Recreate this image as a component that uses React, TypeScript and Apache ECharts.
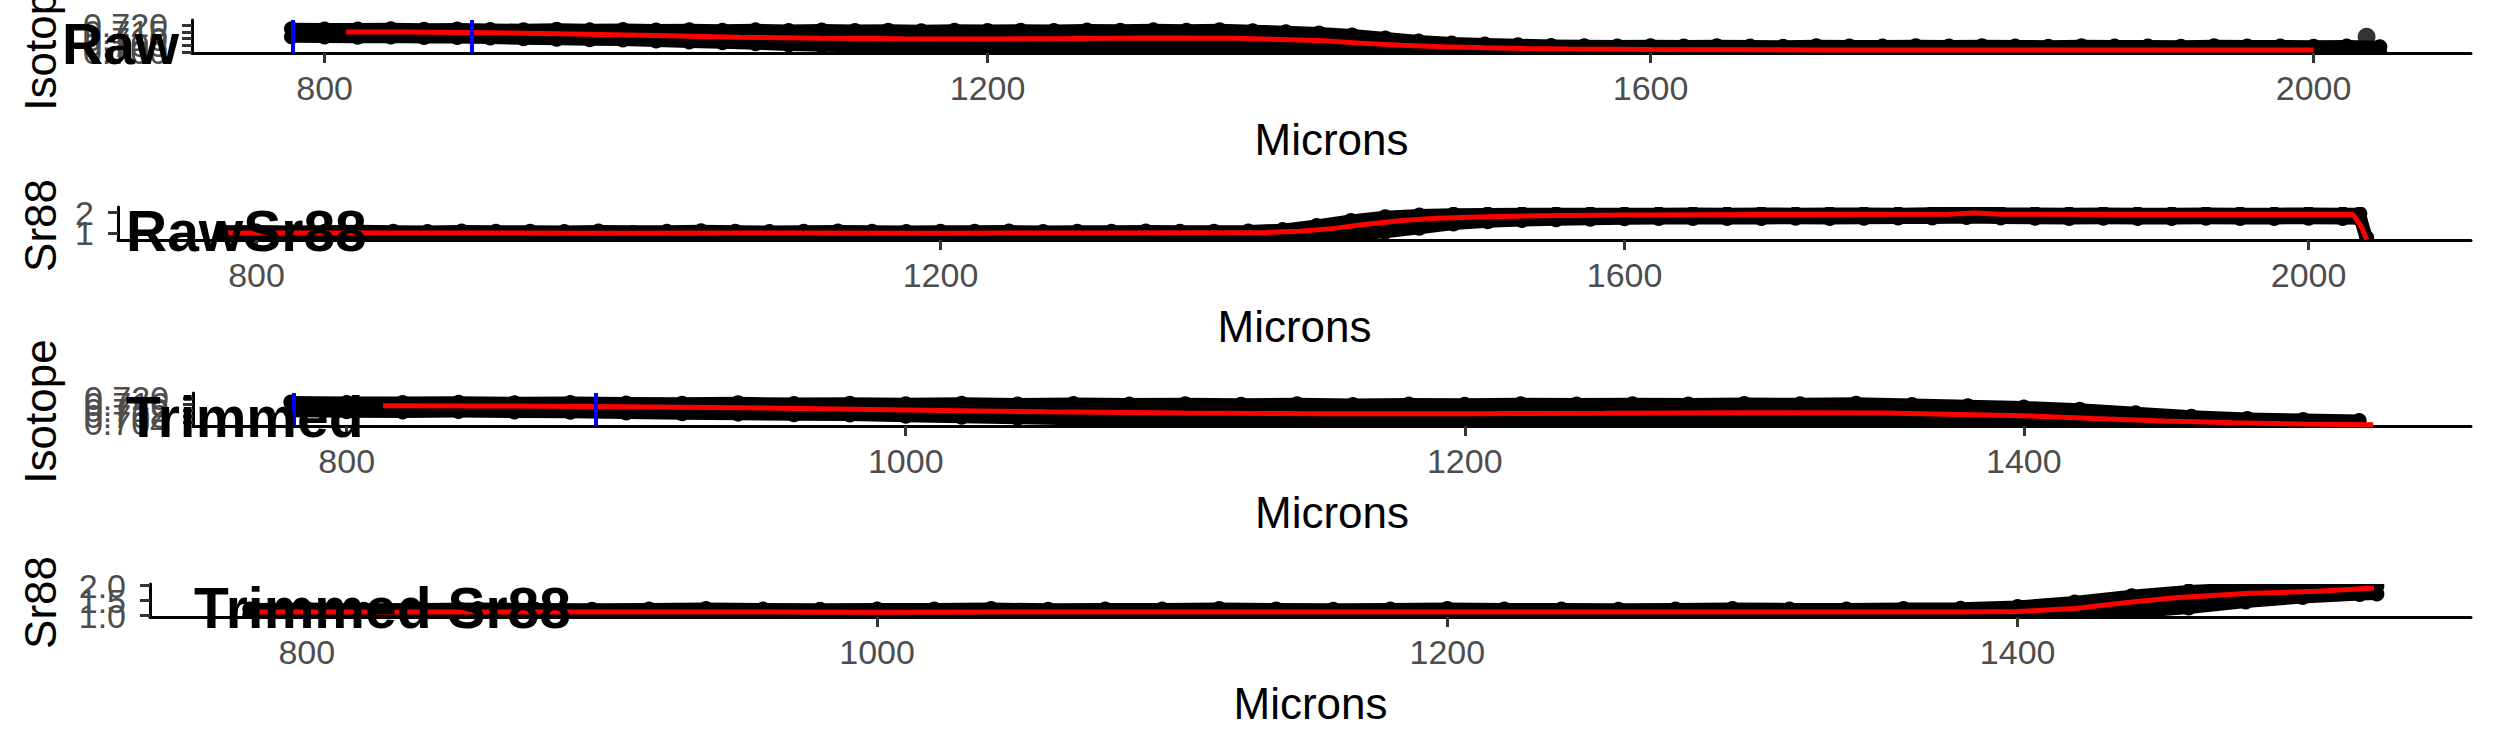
import React, { useEffect, useRef } from "react";
import * as echarts from "echarts";

const FONT = "Liberation Sans";

// ---------- Raw isotope (point-cloud envelope, smoothed line) ----------
const rawMicrons = [
  780, 800, 820, 840, 860, 880, 900, 920, 940, 960, 980, 1000, 1020, 1040, 1060, 1080,
  1100, 1120, 1140, 1160, 1180, 1200, 1220, 1240, 1260, 1280, 1300, 1320, 1340, 1360,
  1380, 1400, 1420, 1440, 1460, 1480, 1500, 1520, 1540, 1560, 1580, 1600, 1620, 1640,
  1660, 1680, 1700, 1720, 1740, 1760, 1780, 1800, 1820, 1840, 1860, 1880, 1900, 1920,
  1940, 1960, 1980, 2000, 2020, 2040,
];
const rawIsoUpper = [
  0.7173, 0.7171, 0.717, 0.7172, 0.7169, 0.7171, 0.7167, 0.7165, 0.7168, 0.7164, 0.7166,
  0.7163, 0.7165, 0.7161, 0.7164, 0.716, 0.7163, 0.7159, 0.7162, 0.7158, 0.7161, 0.7159,
  0.7162, 0.716, 0.7163, 0.7161, 0.7164, 0.7162, 0.7165, 0.7158, 0.715, 0.7141, 0.7127,
  0.7104, 0.7082, 0.7067, 0.706, 0.7054, 0.7049, 0.7046, 0.7045, 0.7047, 0.7044, 0.7046,
  0.7045, 0.7043, 0.7046, 0.7044, 0.7045, 0.7047, 0.7044, 0.7046, 0.7045, 0.7043, 0.7046,
  0.7044, 0.7045, 0.7043, 0.7046, 0.7044, 0.7045, 0.7043, 0.7045, 0.704,
];
const rawIsoLower = [
  0.7113, 0.7111, 0.7109, 0.7112, 0.7108, 0.7107, 0.7103, 0.7098, 0.7095, 0.7091, 0.7089,
  0.7082, 0.7075, 0.7069, 0.7061, 0.7053, 0.7047, 0.7043, 0.704, 0.7042, 0.7038, 0.704,
  0.7037, 0.7041, 0.7038, 0.704, 0.7037, 0.7039, 0.7036, 0.7035, 0.7032, 0.7029, 0.7023,
  0.7015, 0.7007, 0.7, 0.6995, 0.6992, 0.699, 0.6991, 0.6989, 0.699, 0.6991, 0.6989,
  0.699, 0.6991, 0.6989, 0.699, 0.6991, 0.6989, 0.699, 0.6991, 0.6989, 0.699, 0.6991,
  0.6989, 0.699, 0.6991, 0.6989, 0.699, 0.6991, 0.6989, 0.699, 0.6991,
];
const rawIsoSmoothMicrons = [
  813, 850, 900, 950, 1000, 1050, 1100, 1150, 1200, 1250, 1300, 1350, 1400, 1425, 1450,
  1475, 1500, 1525, 1550, 1600, 1700, 1800, 1900, 2000,
];
const rawIsoSmooth = [
  0.7149, 0.7148, 0.7143, 0.7134, 0.7122, 0.711, 0.7102, 0.7098, 0.7097, 0.71, 0.7104,
  0.7102, 0.7085, 0.7066, 0.705, 0.7039, 0.7031, 0.7026, 0.7022, 0.7018, 0.7016, 0.7015,
  0.7015, 0.7015,
];
const rawIsoOutlier = [[2032, 0.7113]];
const windowMarks = [781, 889];

// ---------- Raw Sr88 ----------
const rawSrMicrons = [
  780, 800, 820, 840, 860, 880, 900, 920, 940, 960, 980, 1000, 1020, 1040, 1060, 1080,
  1100, 1120, 1140, 1160, 1180, 1200, 1220, 1240, 1260, 1280, 1300, 1320, 1340, 1360,
  1380, 1400, 1420, 1440, 1460, 1480, 1500, 1520, 1540, 1560, 1580, 1600, 1620, 1640,
  1660, 1680, 1700, 1720, 1740, 1760, 1780, 1800, 1820, 1840, 1860, 1880, 1900, 1920,
  1940, 1960, 1980, 2000, 2020, 2030, 2034,
];
const rawSrUpper = [
  1.1, 1.11, 1.09, 1.1, 1.12, 1.1, 1.09, 1.11, 1.1, 1.1, 1.09, 1.11, 1.1, 1.1, 1.12, 1.1,
  1.09, 1.1, 1.11, 1.1, 1.09, 1.1, 1.1, 1.11, 1.09, 1.1, 1.1, 1.11, 1.1, 1.1,
  1.11, 1.18, 1.38, 1.62, 1.8, 1.89, 1.92, 1.93, 1.94, 1.94, 1.95, 1.94, 1.95, 1.96,
  1.95, 1.96, 1.95, 1.96, 1.96, 1.95, 1.97, 2.02, 1.97, 1.96, 1.95, 1.96, 1.95, 1.95,
  1.96, 1.95, 1.95, 1.96, 1.95, 1.94, 0.8,
];
const rawSrLower = [
  0.88, 0.87, 0.89, 0.88, 0.87, 0.88, 0.89, 0.88, 0.87, 0.88, 0.88, 0.89, 0.87, 0.88,
  0.88, 0.87, 0.89, 0.88, 0.88, 0.87, 0.88, 0.89, 0.88, 0.87, 0.88, 0.88, 0.89, 0.88,
  0.87, 0.88, 0.88, 0.88, 0.89, 0.93, 1.05, 1.25, 1.45, 1.56, 1.62, 1.66, 1.68, 1.7,
  1.71, 1.72, 1.71, 1.72, 1.73, 1.72, 1.73, 1.74, 1.74, 1.76, 1.74, 1.73, 1.72, 1.73,
  1.72, 1.72, 1.73, 1.72, 1.72, 1.73, 1.72, 1.7, 0.6,
];
const rawSrSmoothMicrons = [
  783, 900, 1000, 1100, 1200, 1300, 1390, 1410, 1430, 1450, 1470, 1490, 1520, 1550, 1600,
  1700, 1790, 1805, 1820, 1900, 2000, 2026, 2031, 2034,
];
const rawSrSmooth = [
  1.02, 1.02, 1.01, 1.02, 1.01, 1.02, 1.04, 1.1, 1.24, 1.45, 1.62, 1.73, 1.8, 1.85, 1.89,
  1.91, 1.92, 1.98, 1.92, 1.91, 1.91, 1.91, 1.3, 0.7,
];

// ---------- Trimmed Sr88 ----------
const trimSrMicrons = [
  780, 800, 820, 840, 860, 880, 900, 920, 940, 960, 980, 1000, 1020, 1040, 1060, 1080,
  1100, 1120, 1140, 1160, 1180, 1200, 1220, 1240, 1260, 1280, 1300, 1320, 1340, 1360,
  1380, 1400, 1420, 1440, 1460, 1480, 1500, 1520, 1526,
];
const trimSrUpper = [
  1.22, 1.23, 1.21, 1.22, 1.23, 1.22, 1.21, 1.22, 1.23, 1.22, 1.21, 1.22, 1.22, 1.23,
  1.21, 1.22, 1.22, 1.23, 1.22, 1.21, 1.22, 1.23, 1.22, 1.22, 1.21, 1.22, 1.23, 1.22,
  1.22, 1.23, 1.24, 1.3, 1.45, 1.66, 1.82, 1.9, 1.95, 1.98, 1.98,
];
const trimSrLower = [
  1.02, 1.01, 1.02, 1.03, 1.02, 1.01, 1.02, 1.02, 1.03, 1.02, 1.01, 1.02, 1.02, 1.01,
  1.02, 1.03, 1.02, 1.02, 1.01, 1.02, 1.02, 1.03, 1.02, 1.01, 1.02, 1.02, 1.03, 1.02,
  1.01, 1.02, 1.02, 1.02, 1.03, 1.1, 1.25, 1.45, 1.6, 1.7, 1.72,
];
const trimSrSmoothMicrons = [783, 900, 1000, 1100, 1200, 1300, 1380, 1400, 1420, 1440, 1455, 1480, 1505, 1525];
const trimSrSmooth = [1.12, 1.12, 1.11, 1.12, 1.12, 1.12, 1.12, 1.13, 1.23, 1.45, 1.59, 1.73, 1.81, 1.92];

const trimEnd = 1526;

// ---------- tick labels ----------
const rawMicronTicks = [800, 1200, 1600, 2000];
const trimMicronTicks = [800, 1000, 1200, 1400];
const rawIsoTicks = [0.7, 0.705, 0.71, 0.715, 0.72];
const rawSrTicks = [1, 2];
const trimIsoTicks = [0.704, 0.708, 0.712, 0.716, 0.72];
const trimSrTicks = [1.0, 1.5, 2.0];

const titles = ["Raw", "RawSr88", "Trimmed", "Trimmed Sr88"];
const yNames = ["Isotope", "Sr88", "Isotope", "Sr88"];

function pairs(xs: number[], ys: number[]) {
  return xs.map((x, i) => [x, ys[i]]);
}

export default function App() {
  const ref = useRef<HTMLDivElement>(null);

  useEffect(() => {
    if (!ref.current) return;
    const chart = echarts.init(ref.current, undefined, { renderer: "svg" });

    const keep = (xs: number[]) => xs.map((x, i) => i).filter((i) => xs[i] <= trimEnd);
    const tIdx = keep(rawMicrons);
    const trimIsoMicrons = tIdx.map((i) => rawMicrons[i]);
    const trimIsoUpper = tIdx.map((i) => rawIsoUpper[i]);
    const trimIsoLower = tIdx.map((i) => rawIsoLower[i]);
    const sIdx = keep(rawIsoSmoothMicrons);
    const trimIsoSmoothMicrons = sIdx.map((i) => rawIsoSmoothMicrons[i]);
    const trimIsoSmooth = sIdx.map((i) => rawIsoSmooth[i]);

    const panels = [
      {
        left: 192, top: 20, width: 2279, height: 33,
        xMin: 720, xMax: 2095, yMin: 0.6993, yMax: 0.7237,
        xTicks: rawMicronTicks, yTicks: rawIsoTicks, yFmt: (v: number) => v.toFixed(3),
        bx: rawMicrons, bu: rawIsoUpper, bl: rawIsoLower,
        sx: rawIsoSmoothMicrons, sy: rawIsoSmooth, marks: windowMarks, outlier: rawIsoOutlier,
        titleX: 62,
      },
      {
        left: 118, top: 207, width: 2353, height: 33,
        xMin: 719, xMax: 2095, yMin: 0.68, yMax: 2.27,
        xTicks: rawMicronTicks, yTicks: rawSrTicks, yFmt: (v: number) => String(Math.round(v)),
        bx: rawSrMicrons, bu: rawSrUpper, bl: rawSrLower,
        sx: rawSrSmoothMicrons, sy: rawSrSmooth, marks: [], outlier: [],
        titleX: 126,
      },
      {
        left: 193, top: 393, width: 2278, height: 33,
        xMin: 745, xMax: 1560, yMin: 0.7018, yMax: 0.7232,
        xTicks: trimMicronTicks, yTicks: trimIsoTicks, yFmt: (v: number) => v.toFixed(3),
        bx: trimIsoMicrons, bu: trimIsoUpper, bl: trimIsoLower,
        sx: trimIsoSmoothMicrons, sy: trimIsoSmooth, marks: windowMarks, outlier: [],
        titleX: 126,
      },
      {
        left: 150, top: 584, width: 2321, height: 33,
        xMin: 745, xMax: 1559, yMin: 0.95, yMax: 2.05,
        xTicks: trimMicronTicks, yTicks: trimSrTicks, yFmt: (v: number) => v.toFixed(1),
        bx: trimSrMicrons, bu: trimSrUpper, bl: trimSrLower,
        sx: trimSrSmoothMicrons, sy: trimSrSmooth, marks: [], outlier: [],
        titleX: 194,
      },
    ];

    const grid: any[] = [];
    const xAxis: any[] = [];
    const yAxis: any[] = [];
    const series: any[] = [];
    const graphic: any[] = [];

    panels.forEach((p, k) => {
      grid.push({ left: p.left, top: p.top, width: p.width, height: p.height, containLabel: false });
      xAxis.push({
        type: "value", gridIndex: k, min: p.xMin, max: p.xMax,
        name: "Microns", nameLocation: "middle", nameGap: 64,
        nameTextStyle: { fontSize: 44, color: "#000", fontFamily: FONT, lineHeight: 44 },
        axisLine: { show: true, onZero: false, lineStyle: { color: "#000", width: 3 } },
        axisTick: { show: true, length: 10, inside: false, customValues: p.xTicks, lineStyle: { color: "#333", width: 3 } },
        axisLabel: {
          customValues: p.xTicks, fontSize: 34, color: "#4D4D4D", fontFamily: FONT, margin: 18, lineHeight: 34,
          formatter: (v: number) => String(v), showMinLabel: true, showMaxLabel: true, hideOverlap: false,
        },
        splitLine: { show: false },
      });
      // main y axis: line + ticks, series are bound to it
      const mainY = yAxis.length;
      yAxis.push({
        type: "value", gridIndex: k, min: p.yMin, max: p.yMax, position: "left", offset: 0,
        axisLine: { show: true, onZero: false, lineStyle: { color: "#000", width: 3 } },
        axisTick: { show: true, length: 10, inside: false, customValues: p.yTicks, lineStyle: { color: "#333", width: 3 } },
        axisLabel: { show: false },
        splitLine: { show: false },
      });
      // one label axis per tick value so that overlapping labels (as in the reference) are all kept
      p.yTicks.forEach((t) => {
        yAxis.push({
          type: "value", gridIndex: k, min: p.yMin, max: p.yMax, position: "left", offset: 0,
          axisLine: { show: false, onZero: false },
          axisTick: { show: false },
          axisLabel: {
            customValues: [t], fontSize: 34, color: "#4D4D4D", fontFamily: FONT, margin: 24,
            formatter: p.yFmt, showMinLabel: true, showMaxLabel: true, hideOverlap: false,
          },
          splitLine: { show: false },
        });
      });

      const bx = p.bx, bu = p.bu, bl = p.bl;
      series.push({
        type: "custom", xAxisIndex: k, yAxisIndex: mainY, silent: true, z: 2,
        data: [[bx[0], bu[0]]],
        renderItem: (params: any, api: any) => {
          const up: number[][] = bx.map((x, i) => api.coord([x, bu[i]]));
          const lo: number[][] = bx.map((x, i) => api.coord([x, bl[i]]));
          const pts = up.concat(lo.slice().reverse());
          const cs = params.coordSys;
          const dots = up.concat(lo).map((c) => ({
            type: "circle",
            shape: { cx: c[0], cy: c[1], r: 7.5 },
            style: { fill: "#000" },
          }));
          return {
            type: "group",
            clipPath: { type: "rect", shape: { x: cs.x, y: cs.y, width: cs.width, height: cs.height } },
            children: [
              {
                type: "polygon",
                shape: { points: pts },
                style: { fill: "#000", stroke: "#000", lineWidth: 12, lineJoin: "round" },
              },
              ...dots,
            ],
          };
        },
      });
      if (p.outlier.length) {
        series.push({
          type: "scatter", xAxisIndex: k, yAxisIndex: mainY, z: 2, silent: true,
          data: p.outlier, symbolSize: 18, itemStyle: { color: "#000" },
        });
      }
      series.push({
        type: "line", xAxisIndex: k, yAxisIndex: mainY, z: 3, silent: true,
        data: pairs(p.sx, p.sy), symbol: "none", clip: true,
        lineStyle: { color: "#FF0000", width: 5 },
      });
      if (p.marks.length) {
        series.push({
          type: "line", xAxisIndex: k, yAxisIndex: mainY, z: 4, silent: true,
          data: [], symbol: "none",
          markLine: {
            silent: true, symbol: ["none", "none"], label: { show: false },
            lineStyle: { color: "#0000FF", width: 4, type: "solid" },
            data: p.marks.map((x) => ({ xAxis: x })),
          },
        });
      }

      graphic.push({
        type: "text", x: 40, y: p.top + p.height / 2 + 2, rotation: Math.PI / 2, z: 50,
        style: { text: yNames[k], fontSize: 44, fontFamily: FONT, fill: "#000", align: "center", verticalAlign: "middle" },
      });
      graphic.push({
        type: "text", x: p.titleX, y: p.top + p.height - 9, z: 60,
        style: { text: titles[k], fontSize: 57, fontWeight: "bold", fontFamily: FONT, fill: "#000", align: "left", verticalAlign: "middle" },
      });
    });

    chart.setOption({
      animation: false,
      backgroundColor: "#fff",
      textStyle: { fontFamily: FONT },
      grid, xAxis, yAxis, series, graphic,
    });

    return () => chart.dispose();
  }, []);

  return (
    <div
      ref={ref}
      style={{ position: "fixed", left: 0, top: 0, width: "2495px", height: "749px", background: "#fff" }}
    />
  );
}
